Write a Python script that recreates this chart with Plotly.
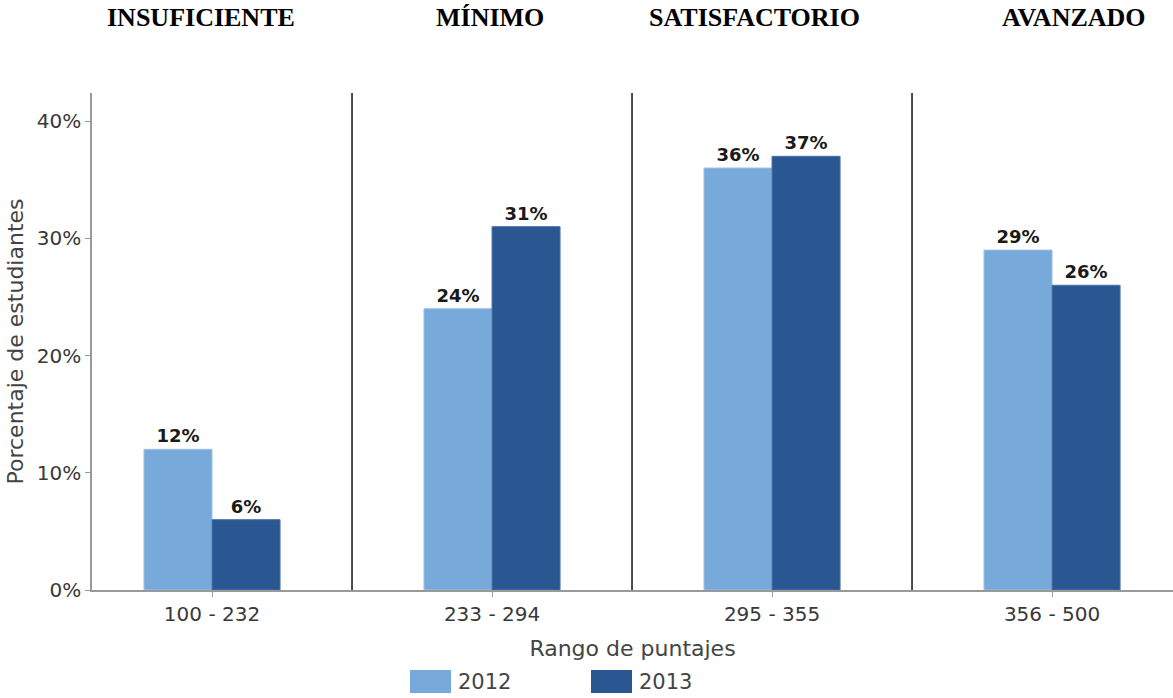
import plotly.graph_objects as go

# Score ranges and performance levels
rangos = ["100 - 232", "233 - 294", "295 - 355", "356 - 500"]
niveles = ["INSUFICIENTE", "MÍNIMO", "SATISFACTORIO", "AVANZADO"]
anios = ["2012", "2013"]
pct_2012 = [12, 24, 36, 29]
pct_2013 = [6, 31, 37, 26]
colores = ["#77AADA", "#2A5791"]
bordes = ["#9CC2E6", "#4A74AA"]

pos = list(range(len(rangos)))
width = 1173
height = 698
sans = "DejaVu Sans"

fig = go.Figure()
for nombre, vals, col, bor in zip(anios, [pct_2012, pct_2013], colores, bordes):
    fig.add_trace(go.Bar(
        x=pos, y=vals, name=nombre,
        marker=dict(color=col, line=dict(color=bor, width=1)),
        text=[f"{v}%" for v in vals],
        textposition="outside",
        textfont=dict(family=sans, size=18, color="#1a1a1a", weight="bold"),
        cliponaxis=False,
        showlegend=False,
    ))

# Vertical separators between score ranges
for i in range(len(rangos) - 1):
    fig.add_shape(type="line", xref="x", yref="paper",
                  x0=i + 0.5, x1=i + 0.5, y0=0, y1=1,
                  line=dict(color="#111111", width=1.5))

# Level headings above the chart
nivel_x = [201, 490, 754, 1074]
for txt, px in zip(niveles, nivel_x):
    fig.add_annotation(text=f"<b>{txt}</b>", xref="paper", yref="paper",
                       x=(px - 92) / (width - 92), y=(590 - 17) / 497,
                       xanchor="center", yanchor="middle", showarrow=False,
                       font=dict(family="Liberation Serif", size=26, color="#000000"))

# Legend drawn as swatches with labels
leyenda = [(410, 451, 456), (591, 632, 637)]
for (x0, x1, xt), nombre, col in zip(leyenda, anios, colores):
    fig.add_shape(type="rect", xref="paper", yref="paper",
                  x0=(x0 - 92) / (width - 92), x1=(x1 - 92) / (width - 92),
                  y0=(590 - 693) / 497, y1=(590 - 670) / 497,
                  fillcolor=col, line=dict(width=0))
    fig.add_annotation(text=nombre, xref="paper", yref="paper",
                       x=(xt - 92) / (width - 92), y=(590 - 682) / 497,
                       xanchor="left", yanchor="middle", showarrow=False,
                       font=dict(family=sans, size=21, color="#444444"))

fig.update_layout(
    width=width, height=height,
    margin=dict(l=92, r=0, t=93, b=108),
    paper_bgcolor="white", plot_bgcolor="white",
    barmode="group", bargap=0.514, bargroupgap=0,
    font=dict(family=sans, color="#444444"),
)
fig.update_xaxes(
    range=[-0.4286, 3.432], tickvals=pos, ticktext=rangos,
    showline=True, linecolor="#999999", linewidth=1.5,
    ticks="outside", ticklen=5, tickcolor="#999999",
    tickfont=dict(family=sans, size=20, color="#383838"), showgrid=False, zeroline=False,
    title=dict(text="Rango de puntajes", font=dict(family=sans, size=22, color="#444444"), standoff=16),
)
fig.update_yaxes(
    range=[0, 42.4], tickvals=[0, 10, 20, 30, 40],
    ticktext=["0%", "10%", "20%", "30%", "40%"],
    showline=True, linecolor="#999999", linewidth=1.5,
    ticks="outside", ticklen=5, tickcolor="#999999",
    tickfont=dict(family=sans, size=20, color="#383838"), showgrid=False, zeroline=False,
    title=dict(text="Porcentaje de estudiantes", font=dict(family=sans, size=22, color="#444444"), standoff=7),
)

fig.write_html("out.html")
